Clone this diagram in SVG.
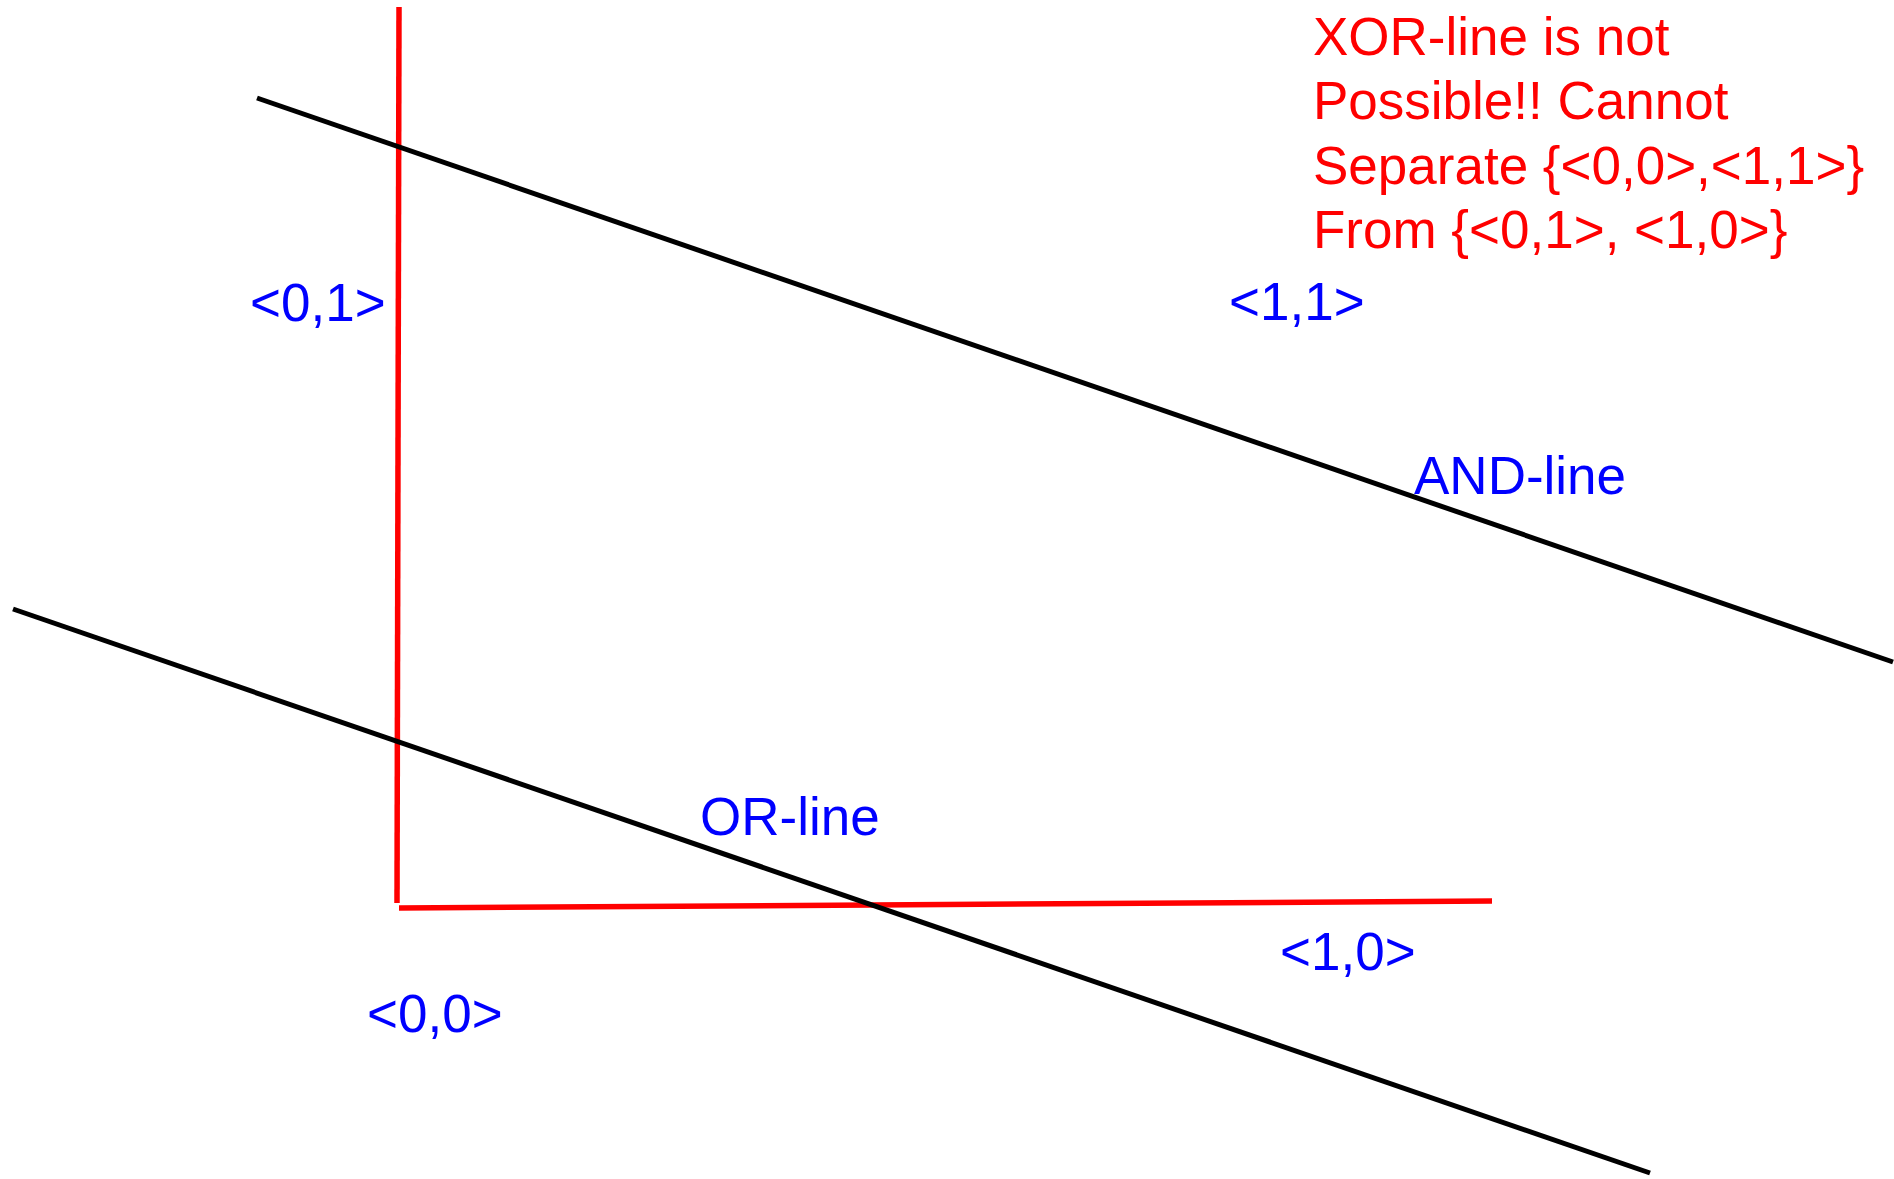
<svg xmlns="http://www.w3.org/2000/svg" width="1894" height="1179" viewBox="0 0 1894 1179">
  <style>
    .axis { stroke: #ff0000; stroke-width: 5.5; fill: none; }
    .sep { stroke: #000000; stroke-width: 5; fill: none; }
    .lbl { font-family: "Liberation Sans", Arial, sans-serif; font-size: 53px; fill: #0000ff; }
    .note { font-family: "Liberation Sans", Arial, sans-serif; font-size: 53px; fill: #ff0000; }
  </style>
  <rect width="1894" height="1179" fill="#ffffff"/>

  <!-- axes -->
  <g id="axes">
    <line class="axis" x1="399" y1="7" x2="397" y2="903"/>
    <line class="axis" x1="399" y1="908" x2="1492" y2="901"/>
  </g>

  <!-- separating lines -->
  <g id="connectors">
    <line id="and-line" class="sep" x1="257" y1="98" x2="1893" y2="662"/>
    <line id="or-line" class="sep" x1="13" y1="609" x2="1650" y2="1173"/>
  </g>

  <!-- input points -->
  <g id="p01"><text class="lbl" x="250" y="321">&lt;0,1&gt;</text></g>
  <g id="p11"><text class="lbl" x="1229" y="320">&lt;1,1&gt;</text></g>
  <g id="p10"><text class="lbl" x="1280" y="970">&lt;1,0&gt;</text></g>
  <g id="p00"><text class="lbl" x="367" y="1032">&lt;0,0&gt;</text></g>

  <!-- line labels -->
  <g id="and-label"><text class="lbl" x="1414" y="494">AND-line</text></g>
  <g id="or-label"><text class="lbl" x="700" y="835">OR-line</text></g>

  <!-- XOR note -->
  <g id="xor-note">
    <text class="note" x="1313" y="55">XOR-line is not</text>
    <text class="note" x="1313" y="119">Possible!! Cannot</text>
    <text class="note" x="1313" y="184">Separate {&lt;0,0&gt;,&lt;1,1&gt;}</text>
    <text class="note" x="1313" y="248">From {&lt;0,1&gt;, &lt;1,0&gt;}</text>
  </g>
</svg>
